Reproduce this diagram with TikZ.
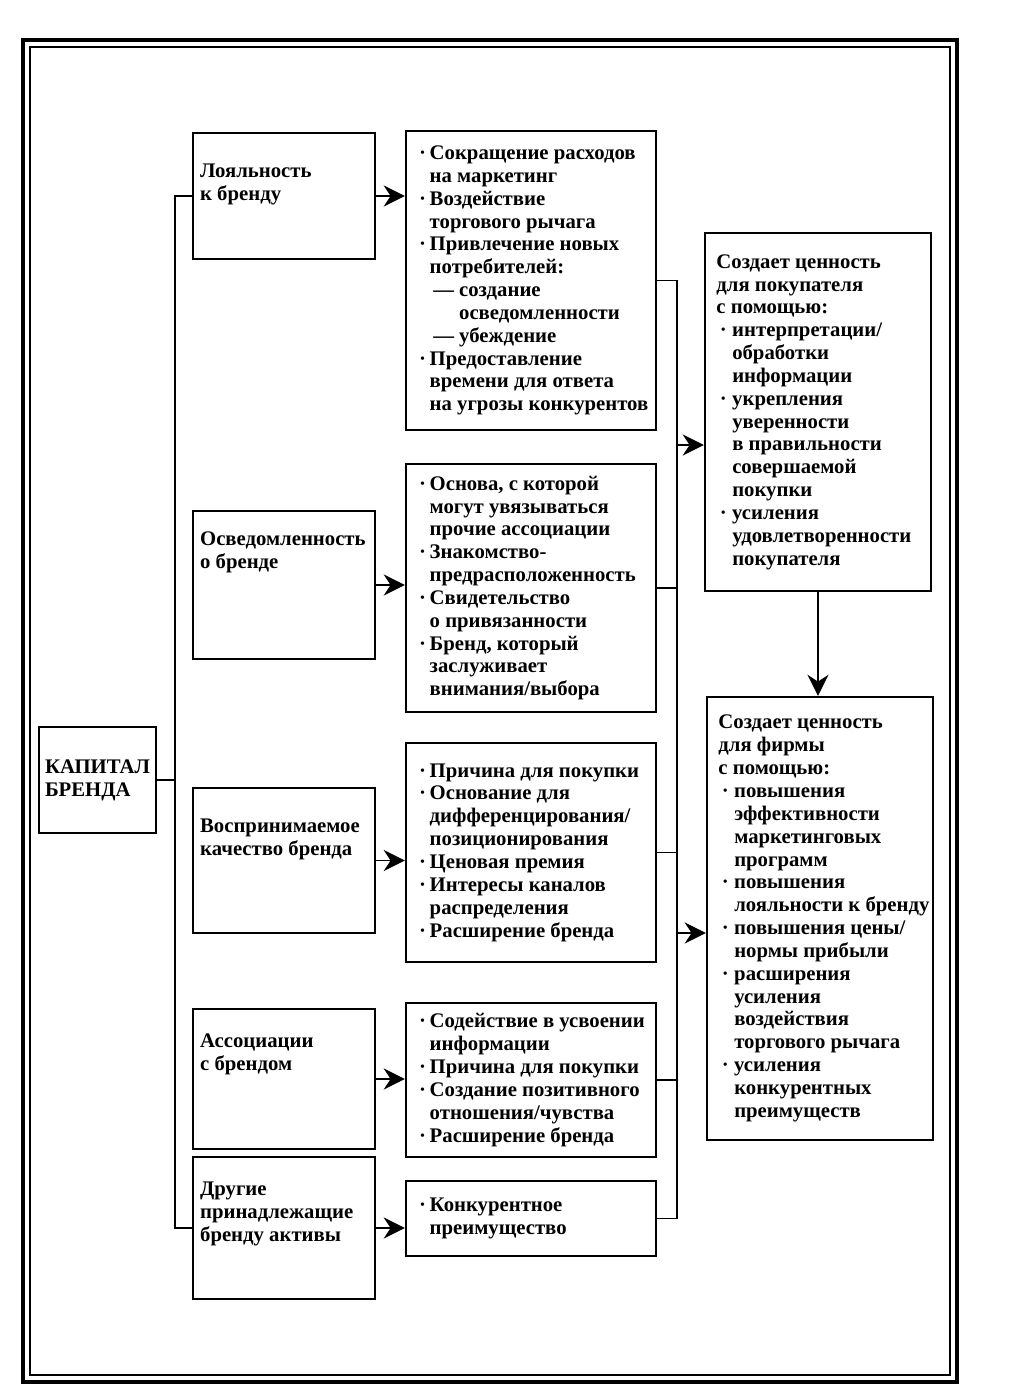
\documentclass[tikz,border=0pt]{standalone}
\usepackage{fontspec}
\setmainfont{Liberation Serif}
\usetikzlibrary{arrows.meta, positioning}
\newcommand{\mitem}{\makebox[6pt][l]{·}}
\newcommand{\mcont}{\hspace*{6pt}}
\newcommand{\ritem}{\hspace*{2pt}\makebox[7pt][l]{·}}
\newcommand{\rcont}{\hspace*{9pt}}
\tikzset{
  capbox/.style={
    rectangle, draw=black, line width=1.4pt,
    minimum width=2.26cm, minimum height=2.12cm,
    align=left, font=\bfseries\fontsize{11.8}{13}\selectfont
  },
  keybox/.style={
    rectangle, draw=black, line width=1.4pt,
    minimum width=3.64cm, minimum height=#1
  },
  gainbox/.style={
    rectangle, draw=black, line width=1.4pt,
    minimum width=5cm, minimum height=#1
  },
  valuebox/.style={
    rectangle, draw=black, line width=1.4pt,
    minimum width=4.52cm, minimum height=#1
  },
  keytext/.style={
    anchor=north west, align=left, inner sep=0pt,
    font=\bfseries\fontsize{11.8}{13}\selectfont
  },
  boxtext/.style={
    anchor=west, align=left, inner sep=0pt,
    font=\bfseries\fontsize{11.8}{13}\selectfont
  },
  flowline/.style={line width=1.1pt},
  flowarrow/.style={-{Stealth[length=12pt,width=12pt]}, line width=1.1pt},
}
\begin{document}
\begin{tikzpicture}[x=0.02cm, y=-0.02cm]
  \useasboundingbox[fill=white] (0,0) rectangle (1021,1400);

  % double frame
  \draw[line width=2.8pt] (23,40) rectangle (957,1382);
  \draw[line width=1.1pt] (30,47) rectangle (950,1375);

  \node[capbox] (capital) at (97.5,780) {КАПИТАЛ\\БРЕНДА};

  % brand assets
  \node[keybox=2.52cm] (loyal)   at (284,196)   {};
  \node[keybox=2.96cm] (aware)   at (284,585)   {};
  \node[keybox=2.90cm] (quality) at (284,860.5) {};
  \node[keybox=2.80cm] (assoc)   at (284,1079)  {};
  \node[keybox=2.84cm] (other)   at (284,1228)  {};

  \node[keytext] (loyal-t)   at ([shift={(8,32)}]loyal.north west)   {Лояльность\\к бренду};
  \node[keytext] (aware-t)   at ([shift={(8,22)}]aware.north west)   {Осведомленность\\о бренде};
  \node[keytext] (quality-t) at ([shift={(8,32)}]quality.north west) {Воспринимаемое\\качество бренда};
  \node[keytext] (assoc-t)   at ([shift={(8,26)}]assoc.north west)   {Ассоциации\\с брендом};
  \node[keytext] (other-t)   at ([shift={(8,26)}]other.north west)   {Другие\\принадлежащие\\бренду активы};

  % what each asset gives
  \node[gainbox=5.98cm] (loyal-gain)   at (531,280.5)  {};
  \node[gainbox=4.96cm] (aware-gain)   at (531,588)    {};
  \node[gainbox=4.38cm] (quality-gain) at (531,852.5)  {};
  \node[gainbox=3.08cm] (assoc-gain)   at (531,1080)   {};
  \node[gainbox=1.5cm]  (other-gain)   at (531,1218.5) {};

  \node[boxtext] (loyal-gain-t) at ([xshift=8]loyal-gain.west) {%
    \mitem Сокращение расходов\\
    \mcont на маркетинг\\
    \mitem Воздействие\\
    \mcont торгового рычага\\
    \mitem Привлечение новых\\
    \mcont потребителей:\\
    \mcont\hspace*{2pt}— создание\\
    \mcont\hspace*{2pt}\phantom{— }осведомленности\\
    \mcont\hspace*{2pt}— убеждение\\
    \mitem Предоставление\\
    \mcont времени для ответа\\
    \mcont на угрозы конкурентов};
  \node[boxtext] (aware-gain-t) at ([xshift=8]aware-gain.west) {%
    \mitem Основа, с которой\\
    \mcont могут увязываться\\
    \mcont прочие ассоциации\\
    \mitem Знакомство-\\
    \mcont предрасположенность\\
    \mitem Свидетельство\\
    \mcont о привязанности\\
    \mitem Бренд, который\\
    \mcont заслуживает\\
    \mcont внимания/выбора};
  \node[boxtext] (quality-gain-t) at ([xshift=8]quality-gain.west) {%
    \mitem Причина для покупки\\
    \mitem Основание для\\
    \mcont дифференцирования/\\
    \mcont позиционирования\\
    \mitem Ценовая премия\\
    \mitem Интересы каналов\\
    \mcont распределения\\
    \mitem Расширение бренда};
  \node[boxtext] (assoc-gain-t) at ([xshift=8]assoc-gain.west) {%
    \mitem Содействие в усвоении\\
    \mcont информации\\
    \mitem Причина для покупки\\
    \mitem Создание позитивного\\
    \mcont отношения/чувства\\
    \mitem Расширение бренда};
  \node[boxtext] (other-gain-t) at ([xshift=8]other-gain.west) {%
    \mitem Конкурентное\\
    \mcont преимущество};

  % value
  \node[valuebox=7.16cm] (cust-value) at (818,412)   {};
  \node[valuebox=8.86cm] (firm-value) at (820,918.5) {};

  \node[boxtext] (cust-value-t) at ([xshift=7]cust-value.west) {%
    Создает ценность\\
    для покупателя\\
    с помощью:\\
    \ritem интерпретации/\\
    \rcont обработки\\
    \rcont информации\\
    \ritem укрепления\\
    \rcont уверенности\\
    \rcont в правильности\\
    \rcont совершаемой\\
    \rcont покупки\\
    \ritem усиления\\
    \rcont удовлетворенности\\
    \rcont покупателя};
  \node[boxtext] (firm-value-t) at ([xshift=7]firm-value.west) {%
    Создает ценность\\
    для фирмы\\
    с помощью:\\
    \ritem повышения\\
    \rcont эффективности\\
    \rcont маркетинговых\\
    \rcont программ\\
    \ritem повышения\\
    \rcont лояльности к бренду\\
    \ritem повышения цены/\\
    \rcont нормы прибыли\\
    \ritem расширения\\
    \rcont усиления\\
    \rcont воздействия\\
    \rcont торгового рычага\\
    \ritem усиления\\
    \rcont конкурентных\\
    \rcont преимуществ};

  % left trunk
  \coordinate (ktop) at (175,196);
  \draw[flowline] (loyal.west) -- (loyal.west -| ktop) -- (other.west -| ktop) -- (other.west);
  \draw[flowline] (capital.east) -- (capital.east -| ktop);

  \foreach \a in {loyal, aware, quality, assoc, other}
    \draw[flowarrow] (\a.east) -- (\a.east -| \a-gain.west);

  % right trunk
  \coordinate (gtop) at (677,280.5);
  \draw[flowline] (loyal-gain.east) -- (gtop) -- (gtop |- other-gain.east) -- (other-gain.east);
  \foreach \g in {aware-gain, quality-gain, assoc-gain}
    \draw[flowline] (\g.east) -- (\g.east -| gtop);

  \coordinate (cv) at (677,445);
  \coordinate (fv) at (677,933);
  \draw[flowarrow] (cv) -- (cv -| cust-value.west);
  \draw[flowarrow] (fv) -- (fv -| firm-value.west);
  \draw[flowarrow] (cust-value.south) -- (cust-value.south |- firm-value.north);
\end{tikzpicture}
\end{document}
